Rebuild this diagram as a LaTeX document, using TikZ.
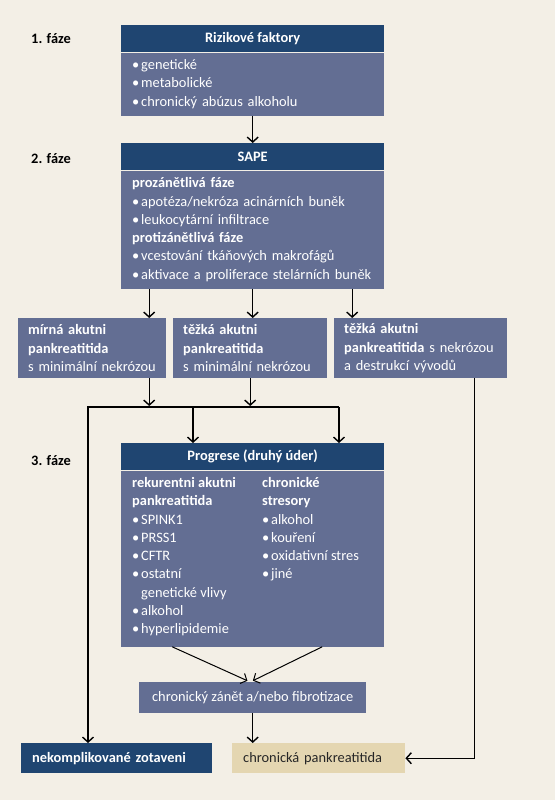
\documentclass[tikz,border=0pt]{standalone}
\usepackage{fontspec}
\setmainfont{Carlito}
\usetikzlibrary{arrows.meta,positioning}
\definecolor{pozadi}{HTML}{F3EFE6}
\definecolor{tmava}{HTML}{1F4571}
\definecolor{modra}{HTML}{636E93}
\definecolor{bezova}{HTML}{E4D6B1}
\newcommand{\bl}{\makebox[9pt][l]{•}}
\newcommand{\odsad}{\hspace*{9pt}}

\begin{document}
\begin{tikzpicture}[x=1pt,y=-1pt,
    node font=\fontsize{14.4pt}{18.3pt}\selectfont,
    hlava/.style={fill=tmava, text=white, font=\bfseries, anchor=north west,
      minimum width=263pt, minimum height=27pt, inner sep=0pt},
    telo/.style={fill=modra, text=white, anchor=north west, align=left,
      text width=241pt, inner xsep=11pt, inner ysep=0pt},
    skupina/.style={fill=modra, text=white, anchor=north west, align=left,
      minimum height=60pt, inner xsep=10pt, inner ysep=0pt},
    sloupec/.style={text=white, anchor=north west, align=left, inner sep=0pt},
    faze/.style={font=\bfseries, anchor=base west, inner sep=0pt},
    vystup/.style={anchor=north west, align=left, minimum height=30pt,
      inner xsep=11pt, inner ysep=0pt},
    car/.style={line width=1.4pt},
    sipka/.style={car, -{Straight Barb[length=5pt,width=11pt]}}]
  \useasboundingbox[fill=pozadi] (0,0) rectangle (555,800);

  % faze
  \node[faze] (faze1) at (31,44) {1. fáze};
  \node[faze] (faze2) at (31,163) {2. fáze};
  \node[faze] (faze3) at (31,465) {3. fáze};

  % 1. faze
  \node[hlava] (rizikaH) at (121,25) {Rizikové faktory};
  \node[telo, minimum height=63pt] (rizika) at (rizikaH.south west)
    {\bl genetické\\\bl metabolické\\\bl chronický abúzus alkoholu};

  % 2. faze
  \node[hlava] (sapeH) at (121,143) {SAPE};
  \node[telo, minimum height=118pt] (sape) at (sapeH.south west)
    {\textbf{prozánětlivá fáze}\\
     \bl apotéza/nekróza acinárních buněk\\
     \bl leukocytární infiltrace\\
     \textbf{protizánětlivá fáze}\\
     \bl vcestování tkáňových makrofágů\\
     \bl aktivace a proliferace stelárních buněk};

  \node[skupina, text width=128pt] (mirna) at (18,318)
    {\textbf{mírná akutni}\\\textbf{pankreatitida}\\s minimální nekrózou};
  \node[skupina, text width=134pt] (tezka) at (173,318)
    {\textbf{těžká akutni}\\\textbf{pankreatitida}\\s minimální nekrózou};
  \node[skupina, text width=153pt] (tezkaN) at (334,318)
    {\textbf{těžká akutni}\\\textbf{pankreatitida} s nekrózou\\a destrukcí vývodů};

  % 3. faze
  \node[hlava] (progreseH) at (121,443) {Progrese (druhý úder)};
  \node[fill=modra, anchor=north west, minimum width=263pt,
    minimum height=176pt, inner sep=0pt] (progrese) at (progreseH.south west) {};
  \node[sloupec] (rekurence) at ([shift={(11,4)}]progrese.north west)
    {\strut\textbf{rekurentni akutni}\\\textbf{pankreatitida}\\
     \bl SPINK1\\\bl PRSS1\\\bl CFTR\\\bl ostatní\\
     \odsad genetické vlivy\\\bl alkohol\\\bl hyperlipidemie};
  \node[sloupec] (stresory) at ([shift={(141,4)}]progrese.north west)
    {\strut\textbf{chronické}\\\textbf{stresory}\\
     \bl alkohol\\\bl kouření\\\bl oxidativní stres\\\bl jiné};

  \node[fill=modra, text=white, anchor=north west, minimum width=227pt,
    minimum height=31pt, inner sep=0pt] (zanet) at (139,682)
    {chronický zánět a/nebo fibrotizace};
  \node[vystup, fill=tmava, text=white, font=\bfseries, text width=169pt]
    (zotaveni) at (21,743) {nekomplikované zotaveni};
  \node[vystup, fill=bezova, text=black!85, text width=151pt]
    (chronicka) at (232,743) {chronická pankreatitida};

  % sipky
  \draw[sipka] (rizika.south) -- (sapeH.north);
  \draw[sipka] ([xshift=-103.5pt]sape.south) -- ([xshift=-103.5pt]sape.south |- mirna.north);
  \draw[sipka] (sape.south) -- (sape.south |- tezka.north);
  \draw[sipka] ([xshift=99.5pt]sape.south) -- ([xshift=99.5pt]sape.south |- tezkaN.north);

  \coordinate (rozcesti) at (88,407);
  \coordinate (rozcestiP) at (339,407);
  \draw[sipka, shorten >=1pt] ([xshift=57pt]mirna.south) -- ([xshift=57pt]mirna.south |- rozcesti);
  \draw[sipka, shorten >=1pt] (tezka.south) -- (tezka.south |- rozcesti);
  \draw[sipka] (rozcestiP) -- (rozcesti) -- (rozcesti |- zotaveni.north);
  \draw[sipka] ([xshift=105pt]rozcesti) -- ([xshift=105pt]rozcesti |- progreseH.north);
  \draw[sipka] (rozcestiP) -- (rozcestiP |- progreseH.north);
  \draw[sipka] ([xshift=53.5pt]tezkaN.south) |- (chronicka.east);

  \draw[sipka, line width=1pt, shorten >=3pt] ([xshift=-80.5pt]progrese.south) -- ([xshift=-2.5pt]zanet.north);
  \draw[sipka, line width=1pt, shorten >=3pt] ([xshift=69.5pt]progrese.south) -- ([xshift=-2.5pt]zanet.north);
  \draw[sipka] (zanet.south) -- (zanet.south |- chronicka.north);
\end{tikzpicture}
\end{document}
